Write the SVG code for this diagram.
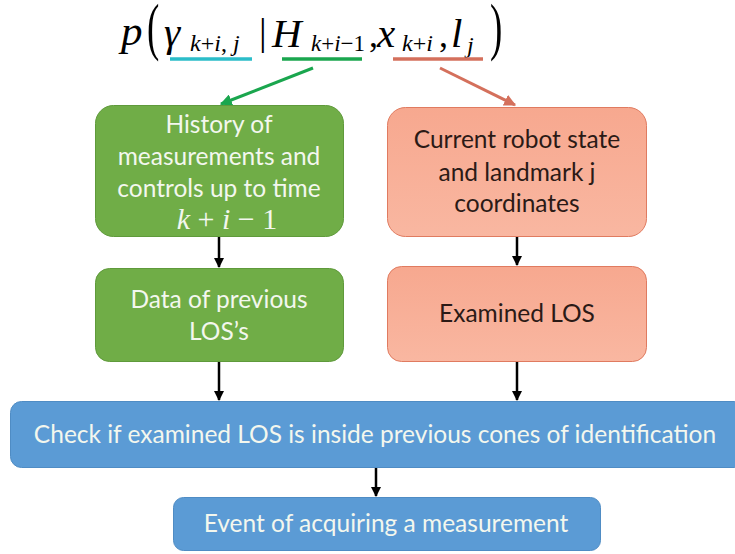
<svg xmlns="http://www.w3.org/2000/svg" width="735" height="554" viewBox="0 0 735 554">
<style>
.lbl{font-family:Lato,"Open Sans","Liberation Sans",sans-serif;font-size:24.5px;text-anchor:middle}
.lt{fill:#f3f7ee}
.dk{fill:#2b1a16}
.math{font-family:"Liberation Serif","Times New Roman",serif;font-style:italic;fill:#000}
.up{font-style:normal}
.green{fill:#70ad47;stroke:#5f9a3b;stroke-width:1}
.orange{fill:url(#og);stroke:#e07b60;stroke-width:1}
.blue{fill:#5b9bd5;stroke:#4f8cc4;stroke-width:1}
.conn{stroke:#000;stroke-width:2.5;fill:none;marker-end:url(#ab)}
</style>
<defs>
<linearGradient id="og" x1="0" y1="0" x2="0" y2="1">
<stop offset="0" stop-color="#f7a88f"/>
<stop offset="1" stop-color="#f9b7a1"/>
</linearGradient>
<marker id="ab" viewBox="0 0 10 10" refX="9" refY="5" markerWidth="4" markerHeight="4" orient="auto" markerUnits="strokeWidth">
<path d="M0,0 L10,5 L0,10 z" fill="#000"/>
</marker>
<marker id="ag" viewBox="0 0 10 10" refX="9" refY="5" markerWidth="4" markerHeight="4" orient="auto" markerUnits="strokeWidth">
<path d="M0,0 L10,5 L0,10 z" fill="#1aa64e"/>
</marker>
<marker id="ar" viewBox="0 0 10 10" refX="9" refY="5" markerWidth="4" markerHeight="4" orient="auto" markerUnits="strokeWidth">
<path d="M0,0 L10,5 L0,10 z" fill="#d4705c"/>
</marker>
</defs>
<rect width="735" height="554" fill="#fff"/>

<g id="formula">
<text class="math" x="121" y="45" font-size="43">p</text>
<text class="math up" x="147" y="28" font-size="37" transform="scale(1,1.7)">(</text>
<text class="math" x="164" y="46" font-size="41">γ</text>
<text class="math" x="190" y="51" font-size="24">k<tspan class="up">+</tspan>i<tspan class="up">,</tspan> j</text>
<text class="math up" x="259" y="45" font-size="38">|</text>
<text class="math" x="272" y="47" font-size="41">H</text>
<text class="math" x="311" y="51" font-size="23">k<tspan class="up">+</tspan>i<tspan class="up">−1</tspan></text>
<text class="math up" x="369" y="47" font-size="36">,</text>
<text class="math" x="377" y="47" font-size="41">x</text>
<text class="math" x="402" y="51" font-size="24">k<tspan class="up">+</tspan>i</text>
<text class="math up" x="439" y="47" font-size="36">,</text>
<text class="math" x="451" y="47" font-size="41">l</text>
<text class="math" x="467" y="53" font-size="24">j</text>
<text class="math up" x="490" y="28" font-size="37" transform="scale(1,1.7)">)</text>
<line x1="170" y1="59" x2="252" y2="59" stroke="#2bbdc9" stroke-width="3.5"/>
<line x1="282" y1="59" x2="362" y2="59" stroke="#1aa64e" stroke-width="3.5"/>
<line x1="393" y1="59" x2="483" y2="59" stroke="#d4705c" stroke-width="3.5"/>
</g>

<g id="connectors">
<line x1="313" y1="68" x2="221" y2="104" stroke="#1aa64e" stroke-width="3" marker-end="url(#ag)"/>
<line x1="440" y1="68" x2="515" y2="105" stroke="#d4705c" stroke-width="3" marker-end="url(#ar)"/>
<line class="conn" x1="219" y1="237" x2="219" y2="267"/>
<line class="conn" x1="517" y1="237" x2="517" y2="265"/>
<line class="conn" x1="219" y1="362" x2="219" y2="400"/>
<line class="conn" x1="517" y1="362" x2="517" y2="400"/>
<line class="conn" x1="376" y1="467" x2="376" y2="496"/>
</g>

<g id="history">
<rect class="green" x="95.5" y="105.5" width="248" height="131" rx="18"/>
<text class="lbl lt" x="219" y="133">History of</text>
<text class="lbl lt" x="219" y="165">measurements and</text>
<text class="lbl lt" x="219" y="197">controls up to time</text>
<text class="lt" x="227" y="229" font-family="Liberation Serif,serif" font-size="30" text-anchor="middle"><tspan font-style="italic">k</tspan> + <tspan font-style="italic">i</tspan> − 1</text>
</g>

<g id="prevlos">
<rect class="green" x="95.5" y="268.5" width="248" height="93" rx="14"/>
<text class="lbl lt" x="219" y="308">Data of previous</text>
<text class="lbl lt" x="219" y="340">LOS’s</text>
</g>

<g id="robotstate">
<rect class="orange" x="387.5" y="107.5" width="259" height="129" rx="18"/>
<text class="lbl dk" x="517" y="148">Current robot state</text>
<text class="lbl dk" x="517" y="181">and landmark j</text>
<text class="lbl dk" x="517" y="212">coordinates</text>
</g>

<g id="examinedlos">
<rect class="orange" x="387.5" y="266.5" width="259" height="95" rx="14"/>
<text class="lbl dk" x="517" y="322">Examined LOS</text>
</g>

<g id="check">
<rect class="blue" x="10.5" y="401.5" width="735" height="66" rx="11"/>
<text class="lbl lt" x="375" y="443">Check if examined LOS is inside previous cones of identification</text>
</g>

<g id="event">
<rect class="blue" x="173.5" y="497.5" width="427" height="53" rx="10"/>
<text class="lbl lt" x="386" y="532">Event of acquiring a measurement</text>
</g>
</svg>
